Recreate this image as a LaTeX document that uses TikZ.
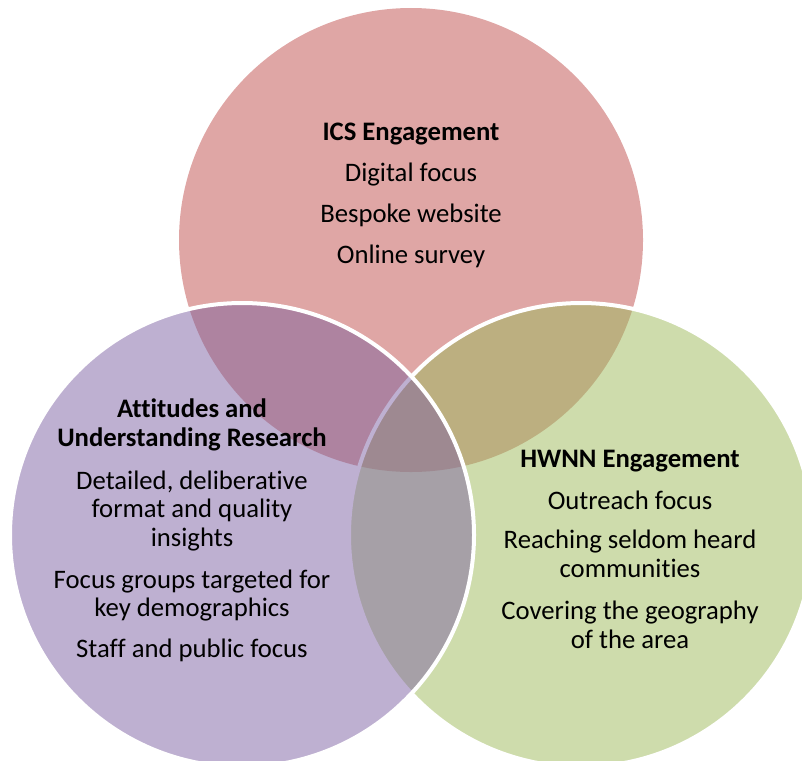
\documentclass[tikz,border=0pt]{standalone}
\usepackage{fontspec}
\setmainfont{Carlito}[Ligatures={NoCommon}]
\definecolor{cred}{RGB}{223,166,165}
\definecolor{cpur}{RGB}{190,176,209}
\definecolor{cgrn}{RGB}{206,220,172}
\definecolor{cmauve}{RGB}{174,131,160}
\definecolor{colive}{RGB}{188,175,128}
\definecolor{cgray}{RGB}{166,160,167}
\definecolor{cmid}{RGB}{158,137,145}
\tikzset{
  txt/.style={font=\fontsize{26.7}{29}\selectfont, anchor=base, inner sep=0pt, text=black},
  ttl/.style={txt, font=\fontsize{26.7}{29}\selectfont\bfseries},
  ring/.style={draw=white, line width=4pt}
}
\begin{document}
\begin{tikzpicture}[x=1pt,y=-1pt]
\useasboundingbox (0,0) rectangle (802,760);
\clip (0,0) rectangle (802,760);
\coordinate (cR) at (411,240);
\coordinate (cP) at (242,535);
\coordinate (cG) at (581,535);
\def\rad{232pt}
% red circle
\fill[cred] (cR) circle[radius=\rad];
% green circle
\fill[cgrn] (cG) circle[radius=\rad];
\begin{scope}
  \clip (cR) circle[radius=\rad];
  \fill[colive] (cG) circle[radius=\rad];
\end{scope}
\draw[ring] (cG) circle[radius=\rad];
% purple circle
\fill[cpur] (cP) circle[radius=\rad];
\begin{scope}
  \clip (cP) circle[radius=\rad];
  \begin{scope}
    \clip (cR) circle[radius=\rad];
    \fill[cmauve] (cP) circle[radius=\rad];
  \end{scope}
  \begin{scope}
    \clip (cG) circle[radius=\rad];
    \fill[cgray] (cP) circle[radius=\rad];
    \clip (cR) circle[radius=\rad];
    \fill[cmid] (cP) circle[radius=\rad];
  \end{scope}
  \draw[cpur, line width=4pt] (cG) circle[radius=\rad];
\end{scope}
\draw[ring] (cP) circle[radius=\rad];
% texts
\node[ttl] (i1) at (411,140.7) {ICS Engagement};
\node[txt] (i2) at (411,181.7) {Digital focus};
\node[txt] (i3) at (411,222.7) {Bespoke website};
\node[txt] (i4) at (411,263.3) {Online survey};
\node[ttl] (a1) at (192,417.7) {Attitudes and};
\node[ttl] (a2) at (192,446.7) {Understanding Research};
\node[txt] (a3) at (192,489) {Detailed, deliberative};
\node[txt] (a4) at (192,517.7) {format and quality};
\node[txt] (a5) at (192,546) {insights};
\node[txt] (a6) at (192,588.3) {Focus groups targeted for};
\node[txt] (a7) at (192,616.7) {key demographics};
\node[txt] (a8) at (192,657.7) {Staff and public focus};
\node[ttl] (h1) at (630,467.7) {HWNN Engagement};
\node[txt] (h2) at (630,509) {Outreach focus};
\node[txt] (h3) at (630,548.3) {Reaching seldom heard};
\node[txt] (h4) at (630,577.7) {communities};
\node[txt] (h5) at (630,619) {Covering the geography};
\node[txt] (h6) at (630,648.3) {of the area};
\end{tikzpicture}
\end{document}
